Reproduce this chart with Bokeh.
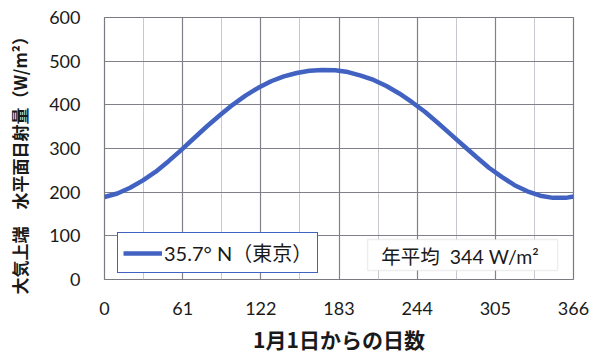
import math
from bokeh.plotting import figure
from bokeh.models import (FixedTicker, Range1d, Legend, LegendItem, Label,
                          BoxAnnotation)
from bokeh.embed import file_html
from bokeh.resources import INLINE

# ---- data ----
days = [0, 10, 20, 30, 40, 50, 60, 70, 80, 90, 100, 110, 120, 130, 140, 150,
        160, 170, 180, 190, 200, 210, 220, 230, 240, 250, 260, 270, 280, 290,
        300, 310, 320, 330, 340, 350, 360, 366]
irradiance = [189, 197, 210, 227, 247, 271, 297, 324, 351, 376, 400, 421, 439,
              454, 465, 473, 478, 480, 479, 475, 467, 457, 443, 426, 406, 384,
              359, 333, 307, 281, 256, 235, 216, 202, 192, 187, 187, 190]
x_ticks = [0, 61, 122, 183, 244, 305, 366]
x_minor = [30.5, 91.5, 152.5, 213.5, 274.5, 335.5]
y_ticks = [0, 100, 200, 300, 400, 500, 600]
series_label = "35.7°\u00a0N（東京）"
annual_text = "年平均\u00a0\u00a0344\u00a0W/m²"
x_title = "1月1日からの日数"
y_title = "大気上端　水平面日射量（W/m²）"

FONT = "Lato, 'Noto Sans CJK JP', sans-serif"
CJK = "'Noto Sans CJK JP', sans-serif"
BLUE = "#4262c2"

p = figure(width=600, height=360, output_backend="svg", toolbar_location=None,
           x_range=Range1d(0, 366), y_range=Range1d(0, 600))
p.min_border_left = 104
p.min_border_right = 27
p.min_border_top = 17
p.min_border_bottom = 81
p.background_fill_color = "white"
p.border_fill_color = "white"
p.outline_line_color = "#7a7a80"
p.outline_line_width = 1.2

p.xaxis.ticker = FixedTicker(ticks=x_ticks, minor_ticks=x_minor)
p.yaxis.ticker = FixedTicker(ticks=y_ticks)
for ax in (p.xaxis, p.yaxis):
    ax.axis_line_color = None
    ax.major_tick_line_color = None
    ax.minor_tick_line_color = None
    ax.major_tick_out = 0
    ax.major_tick_in = 0
    ax.major_label_text_font = FONT
    ax.major_label_text_font_size = "18px"
    ax.major_label_text_color = "#1a1a1a"
p.yaxis.major_label_standoff = 24
p.xaxis.major_label_standoff = 18

p.xaxis.axis_label = x_title
p.xaxis.axis_label_text_font = CJK
p.xaxis.axis_label_text_font_style = "bold"
p.xaxis.axis_label_text_font_size = "21px"
p.xaxis.axis_label_text_color = "#1a1a1a"
p.xaxis.axis_label_standoff = 6

# y title: trailing ideographic spaces shift the visible text downward
p.yaxis.axis_label = y_title + "\u3000\u3000"
p.yaxis.axis_label_text_font = CJK
p.yaxis.axis_label_text_font_style = "bold"
p.yaxis.axis_label_text_font_size = "17px"
p.yaxis.axis_label_text_color = "#1a1a1a"
p.yaxis.axis_label_standoff = 14

p.xgrid.grid_line_color = "#80808a"
p.xgrid.grid_line_width = 1.2
p.xgrid.minor_grid_line_color = "#c8c8d0"
p.xgrid.minor_grid_line_width = 1
p.ygrid.grid_line_color = "#80808a"
p.ygrid.grid_line_width = 1.2

r = p.line(days, irradiance, line_color=BLUE, line_width=4.5)

legend = Legend(items=[LegendItem(label=series_label, renderers=[r])],
                location=(13, 6), orientation="vertical")
legend.label_text_font = FONT
legend.label_text_font_size = "20px"
legend.label_text_color = "#1a1a1a"
legend.glyph_width = 39
legend.glyph_height = 22
legend.label_standoff = 2
legend.padding = 5
legend.margin = 0
legend.spacing = 0
legend.border_line_color = BLUE
legend.border_line_width = 1.8
legend.border_line_alpha = 1
legend.background_fill_color = "white"
legend.background_fill_alpha = 1
p.add_layout(legend)

# annual average box
p.add_layout(BoxAnnotation(left=205.3, right=353.6, bottom=20.6, top=91.6,
                           fill_color="white", fill_alpha=1,
                           line_color="#c8c8cc", line_width=1.5,
                           level="overlay"))
p.add_layout(Label(x=216.0, y=52, text=annual_text, text_align="left",
                   text_baseline="middle", text_font=FONT,
                   text_font_size="19.5px", text_color="#1a1a1a",
                   level="overlay"))

open("out.html", "w").write(file_html(p, INLINE))
